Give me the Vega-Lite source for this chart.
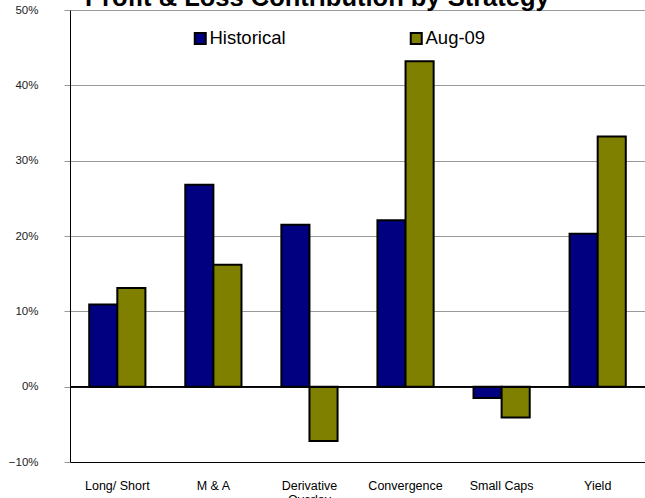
{
  "$schema": "https://vega.github.io/schema/vega-lite/v6.json",
  "width": 575,
  "height": 452,
  "autosize": {"type": "none"},
  "padding": {"left": 70, "top": 10, "right": 0, "bottom": 36},
  "background": "white",
  "title": {
    "text": "Profit & Loss Contribution by Strategy",
    "anchor": "start",
    "frame": "group",
    "font": "Liberation Sans",
    "fontSize": 25.5,
    "fontWeight": "bold",
    "color": "black",
    "baseline": "alphabetic",
    "offset": 0,
    "dx": 15,
    "dy": 27.5
  },
  "config": {
    "view": {"stroke": null},
    "font": "Liberation Sans"
  },
  "data": {
    "values": [
      {"strategy": "Long/ Short", "series": "Historical", "value": 0.109},
      {"strategy": "Long/ Short", "series": "Aug-09", "value": 0.131},
      {"strategy": "M & A", "series": "Historical", "value": 0.268},
      {"strategy": "M & A", "series": "Aug-09", "value": 0.162},
      {"strategy": "Derivative Overlay", "series": "Historical", "value": 0.215},
      {"strategy": "Derivative Overlay", "series": "Aug-09", "value": -0.072},
      {"strategy": "Convergence", "series": "Historical", "value": 0.221},
      {"strategy": "Convergence", "series": "Aug-09", "value": 0.432},
      {"strategy": "Small Caps", "series": "Historical", "value": -0.015},
      {"strategy": "Small Caps", "series": "Aug-09", "value": -0.041},
      {"strategy": "Yield", "series": "Historical", "value": 0.203},
      {"strategy": "Yield", "series": "Aug-09", "value": 0.332}
    ]
  },
  "layer": [
    {
      "mark": {"type": "bar", "stroke": "black", "strokeWidth": 2},
      "encoding": {
        "x": {
          "field": "strategy",
          "type": "nominal",
          "sort": null,
          "title": null,
          "scale": {"paddingInner": 0.415, "paddingOuter": 0.2},
          "axis": {
            "labelAngle": 0,
            "labelFont": "Liberation Sans",
            "labelFontSize": 12.5,
            "labelColor": "black",
            "labelPadding": 17,
            "ticks": false,
            "domainColor": "black",
            "domainWidth": 1,
            "labelLineHeight": 14,
            "labelExpr": "datum.label == 'Derivative Overlay' ? ['Derivative', 'Overlay'] : datum.label"
          }
        },
        "xOffset": {
          "field": "series",
          "type": "nominal",
          "sort": ["Historical", "Aug-09"],
          "scale": {"paddingInner": 0, "paddingOuter": 0}
        },
        "y": {
          "field": "value",
          "type": "quantitative",
          "title": null,
          "scale": {"domain": [-0.1, 0.5], "nice": false, "zero": false},
          "axis": {
            "values": [-0.1, 0, 0.1, 0.2, 0.3, 0.4, 0.5],
            "format": ".0%",
            "labelFont": "Liberation Sans",
            "labelFontSize": 11.5,
            "labelColor": "#222",
            "labelPadding": 26,
            "tickSize": 6,
            "tickColor": "#999",
            "domainColor": "black",
            "grid": true,
            "gridColor": "#999",
            "gridWidth": 1
          }
        },
        "color": {
          "field": "series",
          "type": "nominal",
          "sort": ["Historical", "Aug-09"],
          "scale": {"domain": ["Historical", "Aug-09"], "range": ["#000080", "#808000"]},
          "legend": {
            "title": null,
            "orient": "none",
            "legendX": 121,
            "legendY": 19,
            "direction": "horizontal",
            "columns": 2,
            "columnPadding": 120,
            "padding": 0,
            "symbolType": "square",
            "symbolSize": 121,
            "symbolStrokeColor": "black",
            "symbolStrokeWidth": 2,
            "symbolOpacity": 1,
            "labelFont": "Liberation Sans",
            "labelFontSize": 18.5,
            "labelColor": "black",
            "labelOffset": 0
          }
        }
      }
    },
    {
      "mark": {"type": "rule", "color": "black", "strokeWidth": 1},
      "encoding": {"y": {"datum": 0}}
    }
  ]
}
